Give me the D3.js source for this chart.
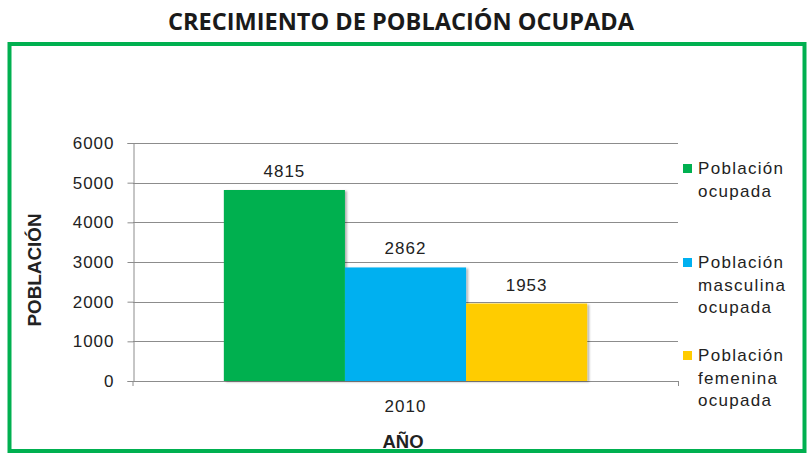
<!DOCTYPE html>
<html>
<head>
<meta charset="utf-8">
<script src="https://cdn.jsdelivr.net/npm/d3@7"></script>
<style>
  body { margin: 0; background: #fff; }
  svg { display: block; }
</style>
</head>
<body>
<div id="container"></div>
<script>
// chart data
const years = ["2010"];
const seriesNames = ["Población ocupada", "Población masculina ocupada", "Población femenina ocupada"];
const legendLines = [["Población", "ocupada"], ["Población", "masculina", "ocupada"], ["Población", "femenina", "ocupada"]];
const values = [4815, 2862, 1953];
const colors = ["#00B050", "#00B0F0", "#FFCC00"];
const yTicks = [0, 1000, 2000, 3000, 4000, 5000, 6000];

const width = 808;
const height = 455;
const font = "'Liberation Sans', Arial, sans-serif";

const svg = d3.create("svg")
    .attr("width", width)
    .attr("height", height)
    .attr("viewBox", [0, 0, width, height]);

// title
svg.append("text")
    .attr("x", 401)
    .attr("y", 30)
    .attr("text-anchor", "middle")
    .attr("font-family", "'Open Sans', sans-serif")
    .attr("font-weight", "bold")
    .attr("font-size", 23)
    .attr("fill", "#1a1a1a")
    .attr("textLength", 466)
    .attr("lengthAdjust", "spacingAndGlyphs")
    .text("CRECIMIENTO DE POBLACIÓN OCUPADA");

// green frame
svg.append("rect")
    .attr("x", 9.5)
    .attr("y", 44)
    .attr("width", 795)
    .attr("height", 407)
    .attr("fill", "none")
    .attr("stroke", "#00B050")
    .attr("stroke-width", 4);

const margin = {left: 133, right: 678, top: 143, bottom: 381};

const x = d3.scaleBand()
    .domain(years)
    .range([margin.left, margin.right]);

const xs = d3.scaleBand()
    .domain(seriesNames)
    .range([0, x.bandwidth()])
    .paddingOuter(0.75)
    .paddingInner(0);

const y = d3.scaleLinear()
    .domain([0, 6000])
    .range([margin.bottom, margin.top]);

// gridlines
svg.append("g")
    .selectAll("line")
    .data(yTicks)
    .join("line")
    .attr("x1", margin.left)
    .attr("x2", margin.right)
    .attr("y1", d => Math.round(y(d)) + 0.5)
    .attr("y2", d => Math.round(y(d)) + 0.5)
    .attr("stroke", "#8c8c8c")
    .attr("stroke-width", 1);

// y axis
const yAxis = svg.append("g")
    .attr("transform", `translate(${margin.left + 0.5},0)`)
    .call(d3.axisLeft(y).tickValues(yTicks).tickFormat(d3.format("d")).tickSize(6).tickPadding(13));
yAxis.select(".domain").attr("stroke", "#8c8c8c");
yAxis.selectAll(".tick line").attr("stroke", "#8c8c8c");
yAxis.selectAll(".tick text")
    .attr("font-family", font)
    .attr("font-size", 17)
    .attr("fill", "#222")
    .attr("letter-spacing", "1px");

// x axis end ticks
svg.append("line")
    .attr("x1", margin.right + 0.5).attr("x2", margin.right + 0.5)
    .attr("y1", margin.bottom).attr("y2", margin.bottom + 5)
    .attr("stroke", "#8c8c8c");
svg.append("line")
    .attr("x1", margin.left).attr("x2", margin.left)
    .attr("y1", margin.bottom).attr("y2", margin.bottom + 5)
    .attr("stroke", "#8c8c8c");

// shadow filter
const defs = svg.append("defs");
const f = defs.append("filter").attr("id", "shadow").attr("x", "-10%").attr("y", "-10%").attr("width", "130%").attr("height", "130%");
f.append("feDropShadow").attr("dx", 2).attr("dy", 1).attr("stdDeviation", 1.2).attr("flood-color", "#000").attr("flood-opacity", 0.3);

// bars
const bars = svg.append("g")
    .selectAll("g")
    .data(years)
    .join("g")
    .attr("transform", d => `translate(${x(d)},0)`);

bars.selectAll("rect")
    .data(seriesNames.map((s, i) => ({s, v: values[i], c: colors[i]})))
    .join("rect")
    .attr("x", d => xs(d.s))
    .attr("width", xs.bandwidth())
    .attr("y", d => y(d.v))
    .attr("height", d => y(0) - y(d.v))
    .attr("fill", d => d.c)
    .attr("filter", "url(#shadow)");

bars.selectAll("text")
    .data(seriesNames.map((s, i) => ({s, v: values[i]})))
    .join("text")
    .attr("x", d => xs(d.s) + xs.bandwidth() / 2)
    .attr("y", d => y(d.v) - 13)
    .attr("text-anchor", "middle")
    .attr("font-family", font)
    .attr("font-size", 17)
    .attr("fill", "#222")
    .attr("letter-spacing", "1px")
    .text(d => d.v);

// x category label
svg.append("g")
    .selectAll("text")
    .data(years)
    .join("text")
    .attr("x", d => x(d) + x.bandwidth() / 2)
    .attr("y", 412)
    .attr("text-anchor", "middle")
    .attr("font-family", font)
    .attr("font-size", 17)
    .attr("fill", "#222")
    .attr("letter-spacing", "1px")
    .text(d => d);

// axis titles
svg.append("text")
    .attr("x", 403)
    .attr("y", 448)
    .attr("text-anchor", "middle")
    .attr("font-family", font)
    .attr("font-weight", "bold")
    .attr("font-size", 19)
    .attr("fill", "#222")
    .attr("textLength", 41)
    .attr("lengthAdjust", "spacingAndGlyphs")
    .text("AÑO");

svg.append("text")
    .attr("transform", "translate(41,270) rotate(-90)")
    .attr("text-anchor", "middle")
    .attr("font-family", font)
    .attr("font-weight", "bold")
    .attr("font-size", 18)
    .attr("fill", "#222")
    .attr("textLength", 113)
    .attr("lengthAdjust", "spacingAndGlyphs")
    .text("POBLACIÓN");

// legend
const legendTop = [168, 262, 355];
const legend = svg.append("g")
    .selectAll("g")
    .data(seriesNames)
    .join("g")
    .attr("transform", (d, i) => `translate(683,${legendTop[i]})`);

legend.append("rect")
    .attr("x", 0)
    .attr("y", -4)
    .attr("width", 9)
    .attr("height", 9)
    .attr("fill", (d, i) => colors[i]);

legend.append("text")
    .attr("font-family", font)
    .attr("font-size", 17)
    .attr("fill", "#222")
    .attr("letter-spacing", "1.3px")
    .selectAll("tspan")
    .data((d, i) => legendLines[i])
    .join("tspan")
    .attr("x", 15)
    .attr("y", (d, j) => 6 + j * 22.5)
    .text(d => d);

d3.select("#container").append(() => svg.node());
</script>
</body>
</html>
